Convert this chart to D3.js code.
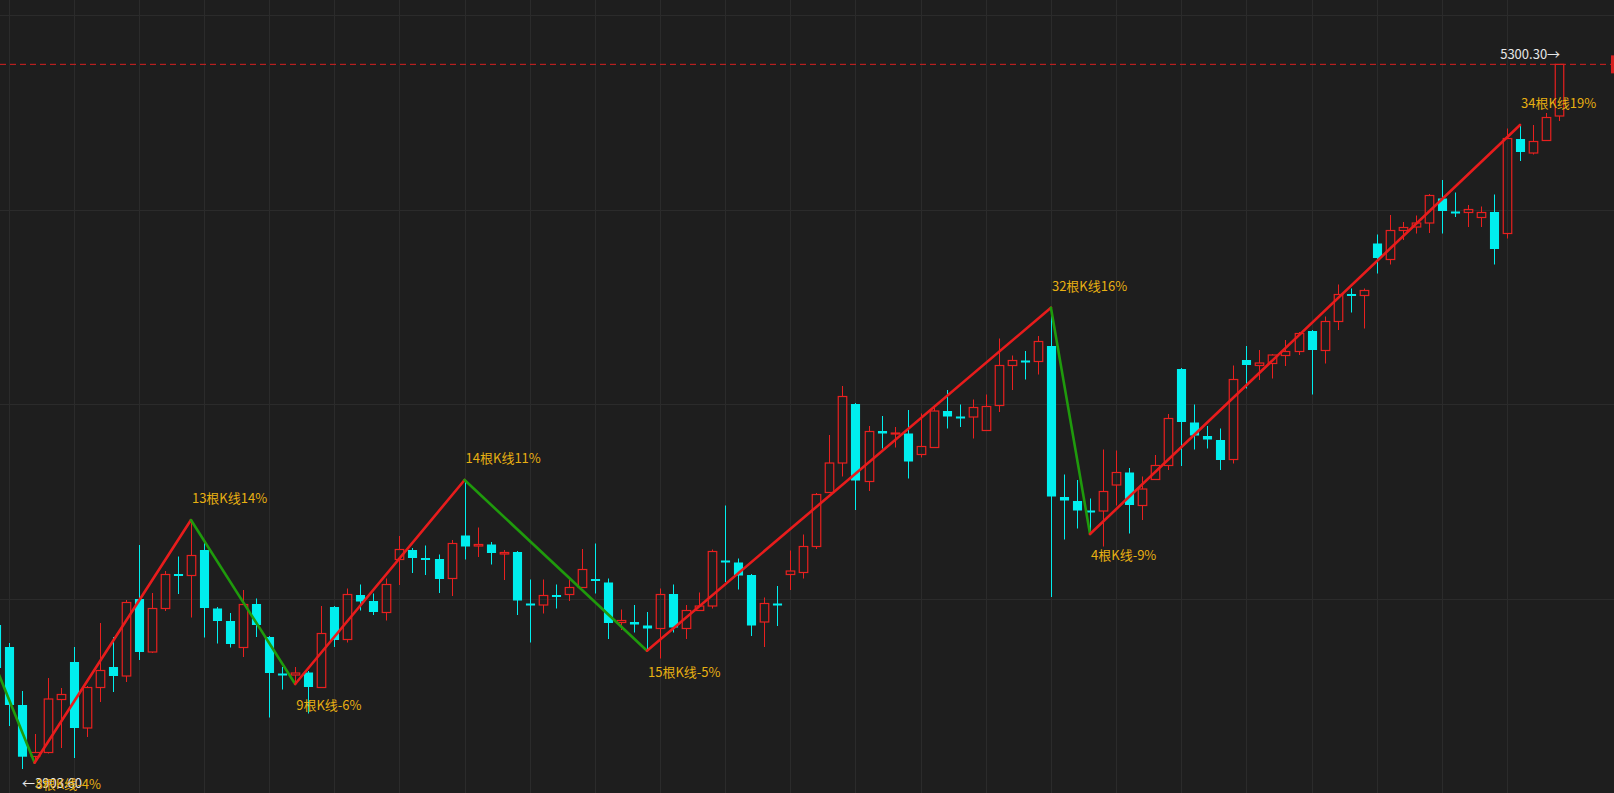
<!DOCTYPE html>
<html><head><meta charset="utf-8">
<script src="https://cdn.jsdelivr.net/npm/d3@7/dist/d3.min.js"></script>
<style>html,body{margin:0;padding:0;background:#1e1e1e;overflow:hidden}</style>
</head><body><svg id="c" width="1614" height="793"></svg>
<script>
const opens=[4179,4135,4019,3916,3924,4030,4105,3973,4054,4095,4077,4231,4125,4212,4281,4278,4329,4212,4187,4134,4221,4155,4082,4079,4084,4054,4215,4150,4239,4227,4204,4310,4329,4313,4311,4272,4358,4337,4340,4321,4325,4222,4219,4239,4240,4254,4271,4264,4184,4185,4178,4172,4241,4172,4208,4217,4308,4304,4279,4185,4222,4280,4284,4336,4444,4503,4621,4466,4567,4561,4562,4520,4534,4607,4596,4595,4568,4618,4698,4708,4706,4737,4435,4427,4408,4407,4459,4484,4418,4470,4498,4691,4584,4557,4549,4510,4709,4698,4702,4718,4726,4767,4728,4786,4841,4838,4942,4910,4968,4975,4983,5032,5006,5004,4994,5005,4962,5151,5123,5148,5197];
const highs=[4199,4143,4047,3961,4073,4053,4135,4057,4183,4155,4229,4339,4243,4287,4316,4389,4343,4215,4203,4249,4232,4157,4095,4095,4087,4217,4217,4252,4260,4242,4272,4357,4333,4338,4320,4349,4469,4374,4345,4329,4327,4270,4270,4260,4274,4331,4342,4272,4210,4219,4205,4252,4260,4219,4244,4330,4418,4312,4281,4234,4257,4328,4360,4443,4559,4657,4623,4577,4597,4575,4609,4602,4617,4649,4620,4630,4640,4752,4718,4727,4757,4813.6,4480,4469,4432,4530,4528,4493,4476,4519,4601,4693,4620,4577,4572,4698,4737,4729,4721,4749,4765,4769,4796,4860,4852,4852,4960,4999,4985,4998,5041,5069,5044,5019,5016,5040,5172,5179,5179,5203,5300.3];
const lows=[3973,3977,3891,3903.6,3922,3933,3913,3955,4025,4045,4065,4109,4123,4207,4241,4194,4154,4142,4134,4115,4155,3994,4050,4061,4002,4053,4135,4144,4208,4199,4188,4259,4283,4279,4243,4237,4310,4315,4300,4269,4199,4144,4202,4212,4227,4253,4242,4151,4169,4164,4127.6,4112,4164,4151,4207,4212,4265,4250,4157,4135,4177,4249,4272,4331,4443,4476,4409,4447,4532,4534,4472,4514,4533,4572,4575,4552,4567,4605,4649,4670,4680,4235,4350,4372,4361,4336,4418,4362,4389,4469,4489,4497,4530,4532,4489,4502,4652,4669,4672,4697,4719,4640,4702,4769,4804,4772,4882,4900,4949,4962,4963,4962,4995,4975,4975,4900,4952,5107,5120,5147,5187];
const closes=[4093,4019,3915.6,3924,4031,4040,3973,4054,4088,4077,4224,4125,4212,4280,4279,4318,4213,4187,4141,4220,4179,4083,4080,4083,4055,4162,4149,4240,4226,4205,4260,4330,4313,4311,4271,4342,4336,4340,4323,4324,4228,4220,4238,4237,4254,4290,4269,4183,4188,4180,4172,4240,4174,4208,4217,4326,4306,4278,4178,4222,4220,4287,4336,4440,4503,4636,4468,4566,4562,4563,4506,4536,4607,4596,4594,4614,4616,4698,4708,4706,4746,4436,4428,4408,4406,4446,4484,4419,4451,4498,4592,4585,4558,4550,4509,4670,4699,4703,4719,4726,4762,4729,4786,4840,4839,4848,4913,4968,4974,4983,5038,5007,5004,5010,5004,4931,5152,5125,5146,5194,5300.3];
const pivotIdx=[-1,3,15,23,36,50,81,84,117];
const pivotPrice=[4161,3903.6,4389,4061,4469,4127.6,4813.6,4361,5179];
const pivotLabels=["","8根K线-4%","13根K线14%","9根K线-6%","14根K线11%","15根K线-5%","32根K线16%","4根K线-9%","34根K线19%"];
const maxLabel="5300.30→", minLabel="←3903.60";
const gridPrices=[5399,5010,4621,4232];

const W=1614,H=793;
const svg=d3.select("#c");
svg.append("rect").attr("width",W).attr("height",H).attr("fill","#1e1e1e");
const x=d3.scaleLinear().domain([0,120]).range([-4.5,1559.1]);
const y=d3.scaleLinear().domain([3843,5429]).range([793,0]);
const UP="#e8201f",DN="#00eeee";
// grid
const vIdx=d3.range(1,121,5);
svg.append("g").selectAll("line").data(vIdx).join("line")
 .attr("x1",d=>Math.round(x(d))+0.5).attr("x2",d=>Math.round(x(d))+0.5).attr("y1",0).attr("y2",H)
 .attr("stroke","#2b2b2b");
svg.append("g").selectAll("line").data(gridPrices).join("line")
 .attr("y1",d=>Math.round(y(d))+0.5).attr("y2",d=>Math.round(y(d))+0.5).attr("x1",0).attr("x2",W)
 .attr("stroke","#2b2b2b");
// candles
const data=opens.map((o,i)=>({i,o,h:highs[i],l:lows[i],c:closes[i]}));
const g=svg.append("g");
const bw=8.5;
data.forEach(d=>{
  const up=d.c>=d.o, col=up?UP:DN, cx=Math.round(x(d.i))+0.5;
  const top=y(Math.max(d.o,d.c)), bot=y(Math.min(d.o,d.c));
  if(up){
    g.append("line").attr("x1",cx).attr("x2",cx).attr("y1",y(d.h)).attr("y2",top).attr("stroke",col);
    g.append("line").attr("x1",cx).attr("x2",cx).attr("y1",bot).attr("y2",y(d.l)).attr("stroke",col);
    g.append("rect").attr("x",cx-bw/2).attr("y",top).attr("width",bw).attr("height",Math.max(1,bot-top))
      .attr("fill","none").attr("stroke",col).attr("stroke-width",1.2);
  } else {
    g.append("line").attr("x1",cx).attr("x2",cx).attr("y1",y(d.h)).attr("y2",y(d.l)).attr("stroke",col);
    g.append("rect").attr("x",cx-bw/2-0.3).attr("y",top).attr("width",bw+0.6).attr("height",Math.max(2,bot-top)).attr("fill",col);
  }
});
// max dashed line
svg.append("line").attr("x1",0).attr("x2",W).attr("y1",y(5300.3)).attr("y2",y(5300.3))
 .attr("stroke","#d62020").attr("stroke-dasharray","6,4").attr("stroke-width",1);
svg.append("rect").attr("x",1611).attr("y",y(5300.3)-9).attr("width",3).attr("height",18).attr("fill","#d62020");
// zigzag
const zz=svg.append("g");
for(let k=0;k<pivotIdx.length-1;k++){
  const upSeg=pivotPrice[k+1]>pivotPrice[k];
  zz.append("line").attr("x1",x(pivotIdx[k])).attr("y1",y(pivotPrice[k]))
   .attr("x2",x(pivotIdx[k+1])).attr("y2",y(pivotPrice[k+1]))
   .attr("stroke",upSeg?"#e81c1c":"#1f9a0c").attr("stroke-width",2.6).attr("stroke-linecap","round");
}
// labels
const font="'Microsoft YaHei','Noto Sans CJK SC',sans-serif";
svg.append("text").attr("x",22).attr("y",y(3903.6)+25).text(minLabel)
 .attr("fill","#e6e6e6").attr("font-size",13).attr("font-family",font);
svg.append("text").attr("x",x(120)+1).attr("y",y(5300.3)-5).attr("text-anchor","end").text(maxLabel)
 .attr("fill","#e6e6e6").attr("font-size",13).attr("font-family",font);
pivotIdx.forEach((p,k)=>{
  if(!pivotLabels[k])return;
  const isPeak=(k>0&&pivotPrice[k]>pivotPrice[k-1]);
  svg.append("text").attr("x",x(p)+(p===3?1:1)).attr("y",y(pivotPrice[k])+(isPeak?-17:26))
   .text(pivotLabels[k]).attr("fill","#e8b012").attr("font-size",13).attr("font-family",font);
});
</script></body></html>
